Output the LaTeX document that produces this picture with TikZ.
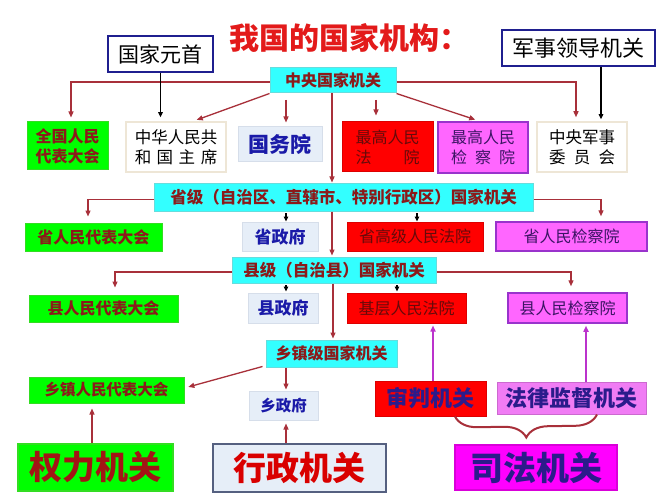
\documentclass[tikz,border=0pt]{standalone}
\usepackage{fontspec}
\setmainfont{Noto Sans CJK SC}
\usetikzlibrary{arrows.meta,decorations.pathreplacing,calc}
\definecolor{cgreen}{HTML}{00FF00}
\definecolor{cgreenbd}{HTML}{33DD22}
\definecolor{ccyan}{HTML}{33FFFF}
\definecolor{ccyanbd}{HTML}{66DDDD}
\definecolor{cred}{HTML}{FF0000}
\definecolor{credbd}{HTML}{DD0000}
\definecolor{cmag}{HTML}{FF66FF}
\definecolor{cmagbd}{HTML}{9933CC}
\definecolor{cviol}{HTML}{F07CF4}
\definecolor{cmag2}{HTML}{FF00FF}
\definecolor{clblue}{HTML}{E6EEF8}
\definecolor{clbluebd}{HTML}{D6DEEA}
\definecolor{cbeige}{HTML}{EEE6D6}
\definecolor{cnavybd}{HTML}{1F1F8F}
\definecolor{cgraybd}{HTML}{556080}
\definecolor{ctred}{HTML}{8B1A1A}
\definecolor{ctdred}{HTML}{660A0A}
\definecolor{ctblue}{HTML}{1A1AA8}
\definecolor{ctpur}{HTML}{3C1464}
\definecolor{ctnavy}{HTML}{2B1B8B}
\definecolor{ctitle}{HTML}{E31A1A}
\definecolor{cline}{HTML}{A8303A}
\definecolor{cmline}{HTML}{BB33CC}
\tikzset{
  box/.style={draw, line width=1pt, inner sep=0pt, align=center},
  grn/.style={box, fill=cgreen, draw=cgreenbd, text=ctred, font=\bfseries\fontsize{16}{20}\selectfont},
  cyn/.style={box, fill=ccyan, draw=ccyanbd, text=ctred, font=\bfseries\fontsize{16}{20}\selectfont},
  rdb/.style={box, fill=cred, draw=credbd, text=ctdred, font=\fontsize{16}{20}\selectfont},
  mgb/.style={box, fill=cmag, draw=cmagbd, line width=1.5pt, text=ctpur, font=\fontsize{16}{20}\selectfont},
  lbb/.style={box, fill=clblue, draw=clbluebd, text=ctblue, font=\bfseries\fontsize{17}{20}\selectfont},
  whb/.style={box, fill=white, draw=cbeige, line width=1.5pt, text=black, font=\fontsize{16.5}{20}\selectfont},
  hdb/.style={box, fill=white, draw=cnavybd, line width=2pt, text=black, font=\fontsize{21}{24}\selectfont},
  big/.style={box, line width=1.5pt, font=\bfseries\fontsize{33}{36}\selectfont},
  mid/.style={box, line width=1pt, font=\bfseries\fontsize{22}{24}\selectfont},
  rl/.style={draw=cline, line width=1.3pt, -{Triangle[length=6pt,width=5pt]}},
  bl/.style={draw=black, line width=1.1pt, -{Triangle[length=5pt,width=4.5pt]}},
  ml/.style={draw=cmline, line width=1.5pt, -{Triangle[length=6pt,width=5pt]}},
  bracestyle/.style={draw=cline, line width=2pt, decorate, decoration={brace, mirror, amplitude=22pt}},
}
\begin{document}
\begin{tikzpicture}[x=1pt,y=-1pt]
\useasboundingbox[fill=white] (0,0) rectangle (667,500);

\node[font=\bfseries\fontsize{30}{30}\selectfont, text=ctitle, inner sep=0pt] (title) at (349,38) {我国的国家机构：};

\node[hdb, minimum width=105pt, minimum height=36pt] (gjys) at (160.5,54) {国家元首};
\node[hdb, font=\fontsize{22}{24}\selectfont, minimum width=153pt, minimum height=36pt] (jsld) at (578.5,48) {军事领导机关};
\node[cyn, minimum width=126pt, minimum height=25pt] (zy) at (333,80.5) {中央国家机关};

\node[grn, minimum width=81pt, minimum height=48pt] (qgrd) at (67.5,146) {全国人民\\代表大会};
\node[whb, minimum width=100pt, minimum height=50pt] (zx) at (176,147) {中华人民共\\\makebox[5em]{和\hfill 国\hfill 主\hfill 席}};
\node[lbb, font=\bfseries\fontsize{21}{24}\selectfont, minimum width=84pt, minimum height=35pt] (gwy) at (280,144.5) {国务院};
\node[rdb, minimum width=91pt, minimum height=50pt] (zgf) at (387.5,147) {最高人民\\\makebox[4em]{法\hfill 院}};
\node[mgb, minimum width=90pt, minimum height=51pt] (zgj) at (483,147.5) {最高人民\\\makebox[4em]{检\hfill 察\hfill 院}};
\node[whb, minimum width=90pt, minimum height=50pt] (jw) at (582,147) {中央军事\\\makebox[4em]{委\hfill 员\hfill 会}};

\node[cyn, font=\bfseries\fontsize{16.5}{20}\selectfont, minimum width=379pt, minimum height=27pt] (sj) at (343.5,197.5) {省级（自治区、直辖市、特别行政区）国家机关};
\node[grn, minimum width=137pt, minimum height=28pt] (srd) at (93.5,237) {省人民代表大会};
\node[lbb, minimum width=76pt, minimum height=29pt] (szf) at (280,236.5) {省政府};
\node[rdb, minimum width=136pt, minimum height=29pt] (sgy) at (415,236.5) {省高级人民法院};
\node[mgb, minimum width=151pt, minimum height=29pt] (sjc) at (571.5,236.5) {省人民检察院};

\node[cyn, font=\bfseries\fontsize{16.5}{20}\selectfont, minimum width=204pt, minimum height=26pt] (xj) at (334,270) {县级（自治县）国家机关};
\node[grn, minimum width=149pt, minimum height=27pt] (xrd) at (103.5,308.5) {县人民代表大会};
\node[lbb, minimum width=70pt, minimum height=30pt] (xzf) at (283,308) {县政府};
\node[rdb, minimum width=119pt, minimum height=30pt] (jc) at (406.5,308) {基层人民法院};
\node[mgb, minimum width=119pt, minimum height=30pt] (xjc) at (567.5,308) {县人民检察院};

\node[cyn, minimum width=131pt, minimum height=27pt] (xz) at (331.5,353.5) {乡镇级国家机关};
\node[grn, font=\bfseries\fontsize{15.5}{20}\selectfont, minimum width=155pt, minimum height=26pt] (xzrd) at (106.5,390) {乡镇人民代表大会};
\node[lbb, font=\bfseries\fontsize{15.5}{20}\selectfont, minimum width=69pt, minimum height=29pt] (xzf2) at (283.5,405.5) {乡政府};

\node[big, fill=cgreen, draw=cgreenbd, text=ctred!80!red, minimum width=155pt, minimum height=47pt] (qljg) at (95.5,467.5) {权力机关};
\node[big, fill=clblue, draw=cgraybd, text=red!85!black, minimum width=173pt, minimum height=48pt] (xzjg) at (299.5,468) {行政机关};
\node[big, fill=cmag2, draw=cmag2!85!black, text=ctnavy, minimum width=162pt, minimum height=45pt] (sfjg) at (536,467.5) {司法机关};
\node[mid, fill=cred, draw=credbd, text=ctnavy, minimum width=111pt, minimum height=35pt] (sp) at (430.5,398.5) {审判机关};
\node[mid, fill=cviol, draw=cviol!85!black, text=ctnavy, minimum width=149pt, minimum height=32pt] (fl) at (571.5,398) {法律监督机关};

% central level
\draw[rl, shorten >=4pt] ([yshift=-1.5pt]zy.west) -| ([xshift=3.5pt]qgrd.north);
\draw[rl, shorten >=4pt] ([yshift=-1.5pt]zy.east) -| ([xshift=-6pt]jw.north);
\draw[rl, shorten >=4pt] (zy.south west) -- ([xshift=17pt]zx.north);
\coordinate (a1) at (286,100);
\draw[rl, shorten >=4pt] (a1) -- (a1 |- gwy.north);
\coordinate (a2) at (376,100);
\draw[rl, shorten >=6pt] (a2) -- (a2 |- zgf.north);
\draw[rl, shorten >=5pt] (zy.south east) -- ([xshift=-3pt]zgj.north);
\draw[rl, shorten >=1pt] ([xshift=-1pt]zy.south) -- ([xshift=-11.5pt]sj.north);
\draw[bl, shorten >=4pt] (gjys.south) -- (gjys.south |- zx.north);
\draw[bl, shorten >=2pt] ([xshift=22.5pt]jsld.south) -- ([xshift=19pt]jw.north);

% province level
\draw[rl, shorten >=6pt] ([yshift=-2pt]sj.west) -| ([xshift=-5.5pt]srd.north);
\draw[rl, shorten >=5pt] ([yshift=-2pt]sj.east) -| ([xshift=29.5pt]sjc.north);
\coordinate (b1) at (286,213);
\draw[bl] (b1) -- (b1 |- szf.north);
\coordinate (b2) at (417,213);
\draw[bl] (b2) -- (b2 |- sgy.north);
\draw[rl, shorten >=1pt] ([xshift=-11.5pt]sj.south) -- ([xshift=-2pt]xj.north);

% county level
\draw[rl, shorten >=7pt] ([yshift=-2pt]xj.west) -| ([xshift=11.5pt]xrd.north);
\draw[rl, shorten >=6pt] ([yshift=-2pt]xj.east) -| ([xshift=3.5pt]xjc.north);
\coordinate (c1) at (286,285);
\draw[bl, shorten >=1pt] (c1) -- (c1 |- xzf.north);
\coordinate (c2) at (397,285);
\draw[bl, shorten >=1pt] (c2) -- (c2 |- jc.north);
\draw[rl, shorten >=1pt] ([xshift=-1pt]xj.south) -- ([xshift=1.5pt]xz.north);

% township level
\draw[rl, shorten >=4pt] ([xshift=-3pt,yshift=1pt]xz.south west) -- ([yshift=2pt]xzrd.east);
\draw[rl, shorten >=1pt] ([xshift=-45.5pt]xz.south) -- ([xshift=2.5pt]xzf2.north);
\draw[rl, shorten >=3pt] ([xshift=-13.5pt]xzjg.north) -- ([xshift=2.5pt]xzf2.south);
\draw[rl, shorten >=5pt] ([xshift=-3.5pt]qljg.north) -- ([xshift=-14.5pt]xzrd.south);
\draw[ml, shorten >=2pt] ([xshift=2.5pt]sp.north) -- ([xshift=26.5pt]jc.south);
\draw[ml, shorten >=2pt] ([xshift=14.5pt]fl.north) -- ([xshift=18.5pt]xjc.south);
\draw[bracestyle] ([xshift=24.5pt]sp.south) -- ([xshift=25.5pt]fl.south);
\end{tikzpicture}
\end{document}
